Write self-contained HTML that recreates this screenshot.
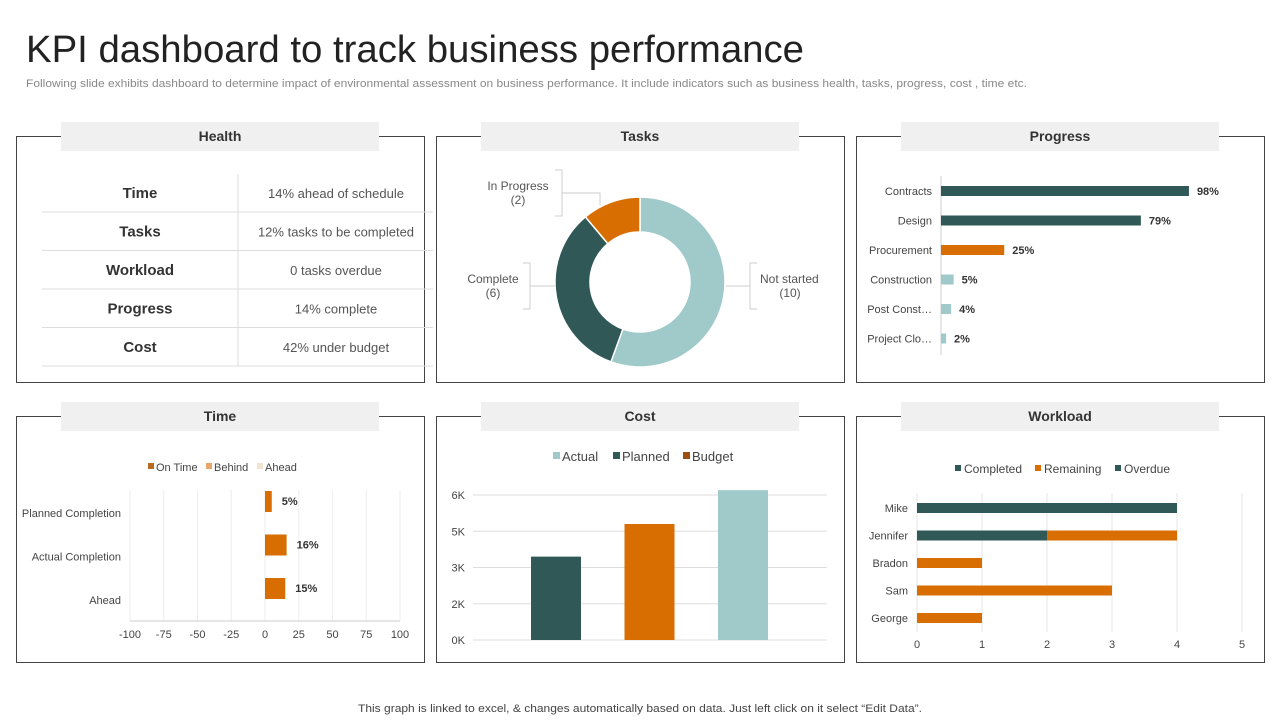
<!DOCTYPE html>
<html><head><meta charset="utf-8"><style>
body{margin:0;width:1280px;height:720px;background:#fff;overflow:hidden;font-family:"Liberation Sans",sans-serif}
svg text{font-family:"Liberation Sans",sans-serif}
</style></head><body>
<svg id="s" width="1280" height="720" xmlns="http://www.w3.org/2000/svg">
<text x="26" y="62" font-size="38" fill="#222" textLength="778" lengthAdjust="spacingAndGlyphs">KPI dashboard to track business performance</text>
<text x="26" y="87" font-size="11" fill="#888" textLength="1001" lengthAdjust="spacingAndGlyphs">Following slide exhibits dashboard to determine impact of environmental assessment on business performance. It include indicators such as business health, tasks, progress, cost , time etc.</text>
<text x="358" y="712" font-size="11" fill="#444" textLength="564" lengthAdjust="spacingAndGlyphs">This graph is linked to excel, &amp; changes automatically based on data. Just left click on it select “Edit Data”.</text>
<g id="panels"></g>
<g id="health"></g>
<g id="tasks"></g>
<g id="progress"></g>
<g id="time"></g>
<g id="cost"></g>
<g id="workload"></g>
</svg>
<script>
// ---- data ----
const healthLabels=["Time","Tasks","Workload","Progress","Cost"];
const healthValues=["14% ahead of schedule","12% tasks to be completed","0 tasks overdue","14% complete","42% under budget"];
const taskLabels=["Not started","Complete","In Progress"];
const taskValues=[10,6,2];
const progressCats=["Contracts","Design","Procurement","Construction","Post Const…","Project Clo…"];
const progressValues=[98,79,25,5,4,2];
const timeCats=["Planned Completion","Actual Completion","Ahead"];
const timeValues=[5,16,15];
const timeTicks=[-100,-75,-50,-25,0,25,50,75,100];
const costCats=["Planned","Budget","Actual"];
const costValues=[3450,4800,6200];
const costTickValues=[0,1500,3000,4500,6000];
const costTickLabels=["0K","2K","3K","5K","6K"];
const workCats=["Mike","Jennifer","Bradon","Sam","George"];
const workCompleted=[4,2,0,0,0];
const workRemaining=[0,2,1,3,1];
const workTicks=[0,1,2,3,4,5];

const NS="http://www.w3.org/2000/svg";
const TEAL="#2f5856",ORANGE="#d86e02",LIGHT="#9fcac9";
function mk(p,tag,a,txt){const e=document.createElementNS(NS,tag);for(const k in a)e.setAttribute(k,a[k]);if(txt!==undefined)e.textContent=txt;p.appendChild(e);return e;}
// panels
const P=document.getElementById('panels');
const px=[16,436,856],py=[136,416],titles=[["Health","Tasks","Progress"],["Time","Cost","Workload"]];
for(let r=0;r<2;r++)for(let c=0;c<3;c++){
 const b=mk(P,'rect',{x:px[c]+.5,y:py[r]+.5,width:408,height:246,fill:'none',stroke:'#444','stroke-width':1});
 
 
 const t=mk(P,'rect',{x:px[c]+45,y:py[r]-14,width:318,height:29,fill:'#f0f0f0'});
 
 
 const tx=mk(P,'text',{x:px[c]+204,y:py[r]+5,'font-size':14,'font-weight':'bold',fill:'#333','text-anchor':'middle'},titles[r][c]);
 
 
}
// health
const H=document.getElementById('health');
mk(H,'line',{x1:238,y1:174,x2:238,y2:366,stroke:'#ddd'});
healthLabels.forEach((l,i)=>{
 const yc=193+i*38.5;
 mk(H,'line',{x1:42,y1:yc+19,x2:433,y2:yc+19,stroke:'#ddd'});
 const a=mk(H,'text',{x:140,y:yc+5,'font-size':15,'font-weight':'bold',fill:'#333','text-anchor':'middle'},l);
 
 
 const b=mk(H,'text',{x:336,y:yc+5,'font-size':13,fill:'#555','text-anchor':'middle'},healthValues[i]);
 
 
});
// tasks donut
const T=document.getElementById('tasks');
const cx=640,cy=282,R=85,r0=50,tot=taskValues.reduce((a,b)=>a+b,0);
const tcol=[LIGHT,TEAL,ORANGE];let ang=0;
function pt(a,rr){return [cx+rr*Math.sin(a),cy-rr*Math.cos(a)];}
taskValues.forEach((v,i)=>{
 const a0=ang,a1=ang+v/tot*2*Math.PI;ang=a1;const lg=(a1-a0)>Math.PI?1:0;
 const [x0,y0]=pt(a0,R),[x1,y1]=pt(a1,R),[x2,y2]=pt(a1,r0),[x3,y3]=pt(a0,r0);
 const s=mk(T,'path',{d:`M${x0},${y0}A${R},${R} 0 ${lg} 1 ${x1},${y1}L${x2},${y2}A${r0},${r0} 0 ${lg} 0 ${x3},${y3}Z`,fill:tcol[i],stroke:'#fff','stroke-width':1.5});
 
 
});
const tl=[[790,283,'start'],[493,283,'middle'],[518,190,'middle']];
tl.forEach((p,i)=>{
 const [x,y,anc]=p;
 const t=mk(T,'text',{x:anc==='start'?760:x,y:y,'font-size':12,fill:'#555','text-anchor':anc==='start'?'start':'middle'});
 mk(t,'tspan',{x:anc==='start'?760:x,dy:0},taskLabels[i]);
 mk(t,'tspan',{x:anc==='start'?790:x,dy:14,'text-anchor':'middle'},'('+taskValues[i]+')');
 
 
});
mk(T,'polyline',{points:'757,263 750,263 750,309 757,309',fill:'none',stroke:'#ccc'});
mk(T,'line',{x1:726,y1:286,x2:750,y2:286,stroke:'#ccc'});
mk(T,'polyline',{points:'523,263 530,263 530,309 523,309',fill:'none',stroke:'#ccc'});
mk(T,'line',{x1:530,y1:286,x2:556,y2:286,stroke:'#ccc'});
mk(T,'polyline',{points:'555,170 562,170 562,216 555,216',fill:'none',stroke:'#ccc'});
mk(T,'polyline',{points:'562,193 600,193 600,205',fill:'none',stroke:'#ccc'});
// progress
const G=document.getElementById('progress');
const pX0=941,pS=2.53,pcol=[TEAL,TEAL,ORANGE,LIGHT,LIGHT,LIGHT];
mk(G,'line',{x1:941,y1:176,x2:941,y2:355,stroke:'#ccc'});
progressCats.forEach((c,i)=>{
 const y=191+i*29.5;
 const l=mk(G,'text',{x:932,y:y+4,'font-size':11,fill:'#444','text-anchor':'end'},c);
 
 
 const b=mk(G,'rect',{x:pX0,y:y-5,width:progressValues[i]*pS,height:10,fill:pcol[i]});
 
 
 const v=mk(G,'text',{x:pX0+progressValues[i]*pS+8,y:y+4,'font-size':11,'font-weight':'bold',fill:'#333'},progressValues[i]+'%');
 
 
});
// time
const TM=document.getElementById('time');
const tx=v=>265+v*1.35;
timeTicks.forEach(t=>{
 mk(TM,'line',{x1:tx(t),y1:490,x2:tx(t),y2:621,stroke:'#eee'});
 const e=mk(TM,'text',{x:tx(t),y:638,'font-size':11,fill:'#444','text-anchor':'middle'},String(t));
 
 
});
mk(TM,'line',{x1:130,y1:621,x2:400,y2:621,stroke:'#ccc'});
timeCats.forEach((c,i)=>{
 const y=501+i*43.5;
 const l=mk(TM,'text',{x:121,y:y+16,'font-size':11,fill:'#444','text-anchor':'end'},c);
 
 
 const b=mk(TM,'rect',{x:tx(0),y:y-10,width:timeValues[i]*1.35,height:21,fill:ORANGE});
 
 
 const v=mk(TM,'text',{x:tx(timeValues[i])+10,y:y+4,'font-size':11,'font-weight':'bold',fill:'#333'},timeValues[i]+'%');
 
 
});
[['On Time','#b86a1e',148],['Behind','#e8a76a',206],['Ahead','#f2e2d0',257]].forEach(d=>{
 mk(TM,'rect',{x:d[2],y:463,width:6,height:6,fill:d[1]});
 const e=mk(TM,'text',{x:d[2]+8,y:471,'font-size':11,fill:'#444'},d[0]);
 
 
});
// cost
const C=document.getElementById('cost');
const cy0=640,cS=145/6000;
costTickValues.forEach((v,i)=>{
 const y=cy0-v*cS;
 mk(C,'line',{x1:473,y1:y,x2:827,y2:y,stroke:'#ddd'});
 const e=mk(C,'text',{x:465,y:y+4,'font-size':11,fill:'#444','text-anchor':'end'},costTickLabels[i]);
 
 
});
const ccol=[TEAL,ORANGE,LIGHT];
costCats.forEach((c,i)=>{
 const x=531+i*93.5,h=costValues[i]*cS;
 const b=mk(C,'rect',{x:x,y:cy0-h,width:50,height:h,fill:ccol[i]});
 
 
});
[['Actual',LIGHT,553],['Planned',TEAL,613],['Budget','#9a4e10',683]].forEach(d=>{
 mk(C,'rect',{x:d[2],y:452,width:7,height:7,fill:d[1]});
 const e=mk(C,'text',{x:d[2]+9,y:461,'font-size':13,fill:'#444'},d[0]);
 
 
});
// workload
const W=document.getElementById('workload');
const wx=v=>917+v*65;
workTicks.forEach(t=>{
 mk(W,'line',{x1:wx(t),y1:493,x2:wx(t),y2:632,stroke:'#e4e4e4'});
 const e=mk(W,'text',{x:wx(t),y:648,'font-size':11,fill:'#444','text-anchor':'middle'},String(t));
 
 
});
workCats.forEach((c,i)=>{
 const y=508+i*27.5;
 const l=mk(W,'text',{x:908,y:y+4,'font-size':11,fill:'#444','text-anchor':'end'},c);
 
 
 if(workCompleted[i]>0){
  const b=mk(W,'rect',{x:wx(0),y:y-5,width:workCompleted[i]*65,height:10,fill:TEAL});
  
  
 }
 if(workRemaining[i]>0){
  const b=mk(W,'rect',{x:wx(workCompleted[i]),y:y-5,width:workRemaining[i]*65,height:10,fill:ORANGE});
  
  
 }
});
[['Completed',TEAL,955],['Remaining',ORANGE,1035],['Overdue',TEAL,1115]].forEach(d=>{
 mk(W,'rect',{x:d[2],y:465,width:6,height:6,fill:d[1]});
 const e=mk(W,'text',{x:d[2]+9,y:473,'font-size':12,fill:'#444'},d[0]);
 
 
});
</script>
</body></html>
